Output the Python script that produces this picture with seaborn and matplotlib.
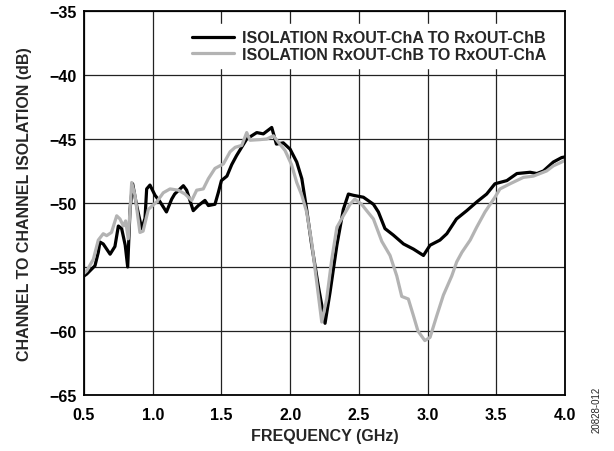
import pandas as pd
import matplotlib
matplotlib.use("Agg")
import matplotlib.pyplot as plt
import seaborn as sns

# Isolation RxOUT-ChA to RxOUT-ChB (black trace)
freq_a = [0.50, 0.52, 0.58, 0.604, 0.616, 0.64, 0.69, 0.725, 0.75, 0.774, 0.80, 0.818,
          0.835, 0.854, 0.883, 0.92, 0.944, 0.956, 0.98, 1.017, 1.053, 1.10, 1.138, 1.16,
          1.223, 1.247, 1.295, 1.332, 1.38, 1.405, 1.453, 1.477, 1.50, 1.54, 1.575, 1.61,
          1.684, 1.757, 1.805, 1.866, 1.90, 1.95, 2.0, 2.048, 2.085, 2.12, 2.157, 2.205,
          2.254, 2.29, 2.34, 2.387, 2.424, 2.46, 2.533, 2.606, 2.642, 2.69, 2.75, 2.825,
          2.897, 2.97, 3.018, 3.09, 3.14, 3.21, 3.285, 3.36, 3.43, 3.49, 3.577, 3.65,
          3.746, 3.795, 3.843, 3.915, 3.976, 4.0]
iso_a = [-55.7, -55.55, -54.9, -53.85, -53.05, -53.2, -54.0, -53.4, -51.8, -52.0, -53.3, -55.0,
         -50.5, -48.5, -50.2, -52.0, -51.2, -48.9, -48.6, -49.4, -49.9, -50.7, -49.7, -49.3,
         -48.65, -49.0, -50.6, -50.2, -49.8, -50.2, -50.1, -49.2, -48.25, -47.9, -47.0, -46.3,
         -45.0, -44.5, -44.6, -44.1, -45.4, -45.3, -45.8, -46.8, -48.1, -50.5, -53.3, -56.5,
         -59.4, -57.0, -53.3, -50.5, -49.3, -49.4, -49.55, -50.1, -50.7, -52.0, -52.5, -53.2,
         -53.6, -54.1, -53.3, -52.9, -52.4, -51.25, -50.6, -49.9, -49.3, -48.5, -48.25, -47.7,
         -47.6, -47.7, -47.5, -46.8, -46.45, -46.4]

# Isolation RxOUT-ChB to RxOUT-ChA (grey trace)
freq_b = [0.50, 0.52, 0.568, 0.604, 0.64, 0.665, 0.70, 0.738, 0.762, 0.786, 0.803, 0.822,
          0.847, 0.871, 0.907, 0.93, 0.968, 1.03, 1.077, 1.126, 1.186, 1.235, 1.284, 1.32,
          1.368, 1.405, 1.453, 1.514, 1.563, 1.60, 1.648, 1.684, 1.708, 1.78, 1.83, 1.878,
          1.914, 1.963, 2.01, 2.048, 2.085, 2.12, 2.157, 2.19, 2.23, 2.266, 2.303, 2.34,
          2.387, 2.436, 2.47, 2.52, 2.557, 2.606, 2.667, 2.727, 2.776, 2.812, 2.86, 2.897,
          2.93, 2.98, 3.018, 3.067, 3.115, 3.176, 3.212, 3.25, 3.31, 3.357, 3.418, 3.49,
          3.527, 3.60, 3.697, 3.77, 3.866, 3.915, 3.976, 4.0]
iso_b = [-55.5, -55.3, -54.4, -52.9, -52.4, -52.55, -52.3, -51.0, -51.25, -51.8, -51.4, -52.8,
         -48.4, -49.4, -52.3, -52.2, -50.5, -49.9, -49.2, -48.9, -49.0, -49.3, -49.8, -49.0,
         -48.9, -48.1, -47.3, -46.95, -46.0, -45.65, -45.5, -44.5, -45.1, -45.05, -45.0, -44.75,
         -45.25, -45.9, -47.0, -48.4, -49.4, -50.7, -53.1, -55.9, -59.3, -57.5, -54.4, -51.9,
         -51.0, -50.1, -49.7, -50.1, -50.6, -51.25, -53.0, -54.1, -55.7, -57.3, -57.5, -58.8,
         -60.0, -60.75, -60.5, -58.8, -57.2, -55.7, -54.6, -53.85, -52.9, -51.9, -50.7, -49.55,
         -48.9, -48.5, -48.0, -47.9, -47.5, -47.1, -46.8, -46.65]

labels = ["ISOLATION RxOUT-ChA TO RxOUT-ChB", "ISOLATION RxOUT-ChB TO RxOUT-ChA"]
x_ticks = [0.5, 1.0, 1.5, 2.0, 2.5, 3.0, 3.5, 4.0]
y_ticks = [-65, -60, -55, -50, -45, -40, -35]

df = pd.concat([
    pd.DataFrame({"freq": freq_a, "iso": iso_a, "trace": labels[0]}),
    pd.DataFrame({"freq": freq_b, "iso": iso_b, "trace": labels[1]}),
])

sns.set_theme(style="white")
plt.rcParams["font.family"] = ["Liberation Sans", "DejaVu Sans"]
plt.rcParams["font.weight"] = "bold"

FS = 11.5

fig = plt.figure(figsize=(6.14, 4.52), dpi=100)
ax = fig.add_axes([0.1368, 0.1239, 0.7834, 0.8496])

sns.lineplot(data=df, x="freq", y="iso", hue="trace", hue_order=labels,
             palette=["#000000", "#b3b3b3"], linewidth=2.3, sort=True,
             estimator=None, ax=ax)

ax.set_xlim(0.5, 4.0)
ax.set_ylim(-65, -35)
ax.set_xticks(x_ticks)
ax.set_yticks(y_ticks)
ax.set_xticklabels([f"{t:.1f}" for t in x_ticks], fontsize=FS, fontweight="bold")
ax.set_yticklabels([f"\u2212{abs(t)}" for t in y_ticks], fontsize=FS, fontweight="bold")
ax.tick_params(axis="x", length=0, pad=9, colors="black")
ax.tick_params(axis="y", length=0, pad=5, colors="black")
ax.grid(True, color="#222222", linewidth=0.9)
for s in ax.spines.values():
    s.set_color("black")
    s.set_linewidth(1.3)

ax.set_xlabel("FREQUENCY (GHz)", fontsize=FS, fontweight="bold", labelpad=4)
ax.set_ylabel("CHANNEL TO CHANNEL ISOLATION (dB)", fontsize=FS, fontweight="bold", labelpad=13)

leg = ax.legend(title=None, loc="upper right", bbox_to_anchor=(1.0, 1.0),
                fontsize=FS, frameon=True, fancybox=False, framealpha=1,
                handlelength=2.6, handletextpad=0.5, labelspacing=0.1,
                borderpad=0.4, borderaxespad=0.8)
leg.get_frame().set_edgecolor("white")
leg.get_frame().set_facecolor("white")
for t in leg.get_texts():
    t.set_fontweight("bold")
for h in leg.get_lines():
    h.set_linewidth(2.3)

fig.text(0.972, 0.093, "20828-012", rotation=90, fontsize=7, fontweight="normal",
         ha="center", va="center")

fig.savefig("out.png", dpi=100)
